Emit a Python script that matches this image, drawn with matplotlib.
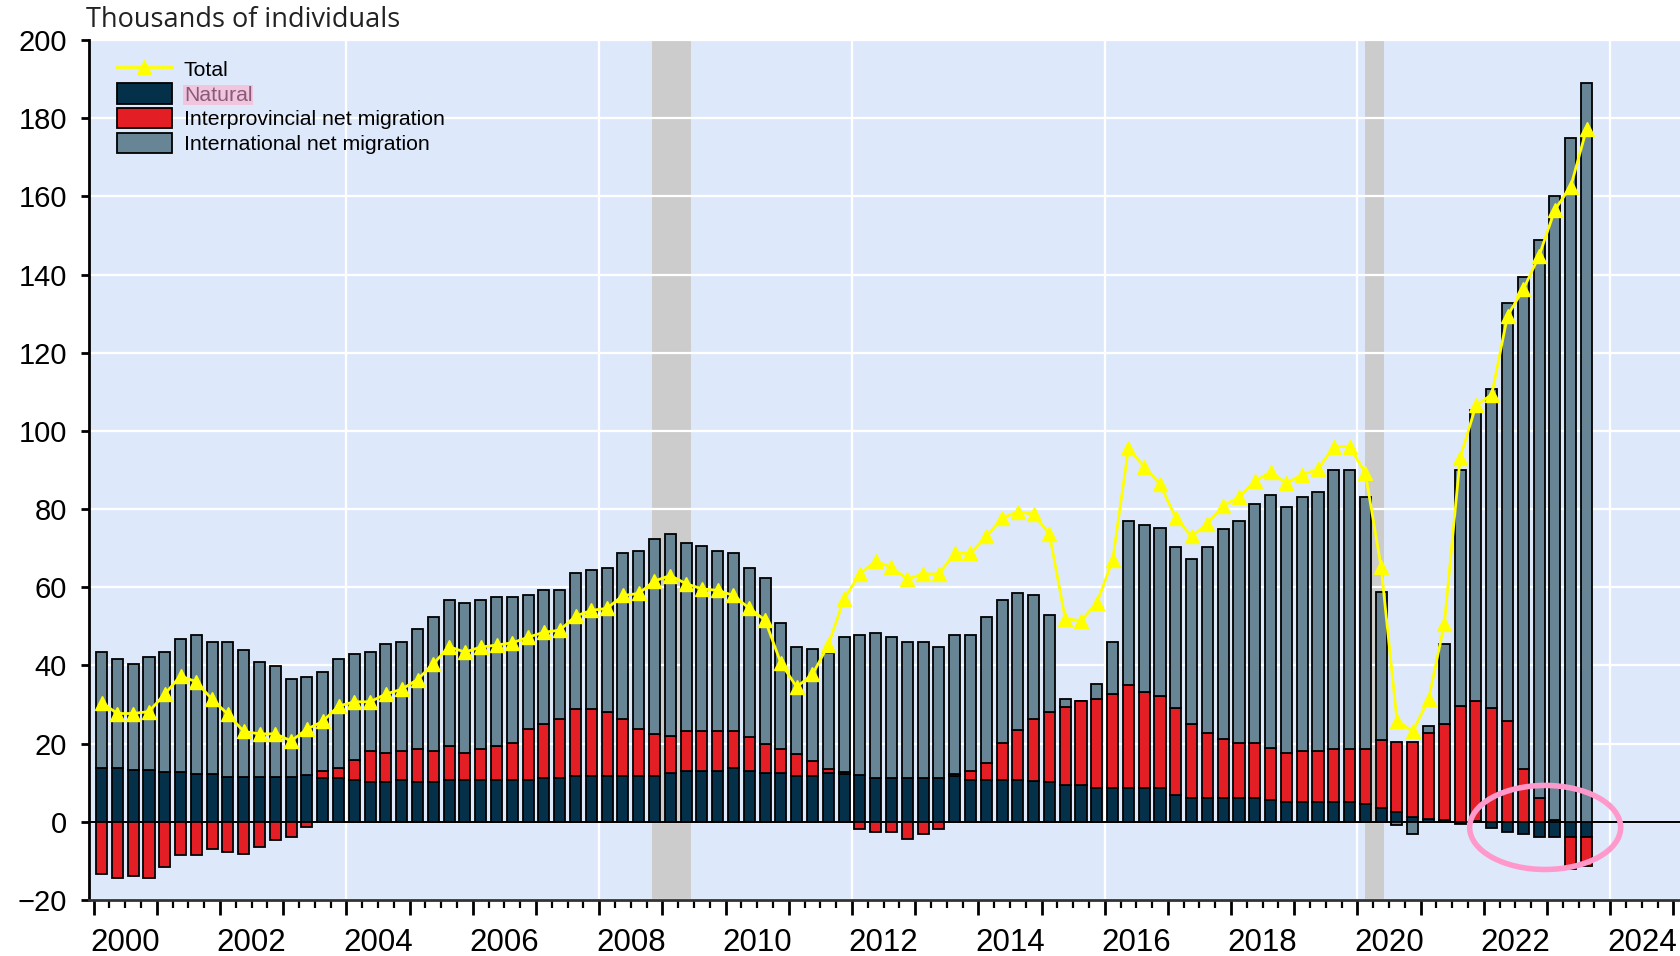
import numpy as np
import matplotlib
matplotlib.use("Agg")
import matplotlib.pyplot as plt
from matplotlib.patches import Ellipse

# quarterly data, 2000Q1 - 2023Q3 (thousands of individuals)
natural = [13.7, 13.7, 13.3, 13.3, 12.8, 12.8, 12.1, 12.1, 11.4, 11.4, 11.4, 11.4,
           11.4, 11.9, 11.1, 11.1, 10.7, 10.2, 10.2, 10.7, 10.2, 10.2, 10.7, 10.7,
           10.7, 10.7, 10.7, 10.7, 11.1, 11.1, 11.7, 11.7, 11.7, 11.7, 11.7, 11.7,
           12.4, 13.0, 13.0, 13.0, 13.7, 13.0, 12.4, 12.4, 11.7, 11.7, 12.4, 12.2,
           12.0, 11.3, 11.3, 11.3, 11.3, 11.3, 11.7, 10.7, 10.7, 10.7, 10.7, 10.4,
           10.2, 9.3, 9.3, 8.7, 8.7, 8.7, 8.7, 8.7, 6.9, 6.2, 6.2, 6.2,
           6.2, 6.2, 5.5, 5.0, 5.0, 5.0, 5.0, 5.0, 4.5, 3.6, 2.4, 1.1,
           0.7, 0.4, -0.5, 0.3, -1.7, -2.7, -3.2, -3.9, -3.9, -3.9, -3.9]
interprov = [-13.4, -14.5, -13.9, -14.5, -11.5, -8.4, -8.4, -7.0, -7.7, -8.3, -6.4, -4.6,
             -3.9, -1.4, 1.9, 2.6, 5.0, 7.9, 7.3, 7.4, 8.5, 7.9, 8.7, 7.0,
             8.0, 8.7, 9.4, 13.0, 14.0, 15.3, 17.1, 17.1, 16.4, 14.7, 12.0, 10.7,
             9.6, 10.3, 10.1, 10.1, 9.4, 8.8, 7.5, 6.2, 5.7, 3.8, 1.1, 0.6,
             -1.8, -2.5, -2.5, -4.5, -3.2, -1.8, 0.5, 2.3, 4.4, 9.4, 12.9, 15.8,
             17.9, 20.1, 21.5, 22.7, 24.0, 26.4, 24.6, 23.4, 22.3, 18.9, 16.5, 15.1,
             13.9, 13.9, 13.3, 12.7, 13.1, 13.1, 13.7, 13.7, 14.2, 17.2, 17.9, 19.2,
             21.9, 24.7, 29.6, 30.6, 29.2, 25.9, 13.4, 6.2, 0.5, -8.3, -7.5]
international = [29.7, 28.0, 27.1, 28.9, 30.6, 33.9, 35.7, 33.8, 34.5, 32.6, 29.6, 28.4,
                 25.2, 25.2, 25.4, 28.0, 27.1, 25.3, 27.9, 27.8, 30.5, 34.3, 37.3, 38.3,
                 38.0, 38.0, 37.3, 34.3, 34.2, 32.9, 34.9, 35.5, 36.8, 42.3, 45.6, 50.0,
                 51.7, 48.0, 47.5, 46.2, 45.6, 43.1, 42.4, 32.3, 27.3, 28.6, 29.8, 34.4,
                 35.8, 37.1, 35.9, 34.6, 34.6, 33.4, 35.6, 34.8, 37.3, 36.6, 34.9, 31.8,
                 24.8, 2.0, 0.2, 3.8, 13.2, 41.9, 42.5, 43.1, 41.2, 42.1, 47.7, 53.6,
                 56.8, 61.1, 64.7, 62.8, 64.9, 66.2, 71.2, 71.2, 64.3, 38.1, -0.7, -3.2,
                 2.0, 20.3, 60.3, 74.4, 81.6, 106.7, 126.0, 142.7, 159.7, 174.9, 188.9]
total = [30.5, 27.7, 27.7, 28.2, 32.7, 37.3, 35.8, 31.3, 27.5, 23.1, 22.5, 22.5,
         20.7, 23.7, 25.7, 29.6, 30.7, 30.7, 32.7, 33.9, 36.4, 40.4, 44.8, 43.4,
         44.7, 45.2, 45.8, 47.2, 48.5, 49.0, 52.6, 54.1, 54.6, 57.9, 58.4, 61.6,
         63.0, 60.9, 59.6, 59.2, 57.9, 54.6, 51.6, 40.6, 34.5, 37.7, 45.2, 57.1,
         63.4, 66.7, 65.1, 62.1, 63.4, 63.4, 68.7, 68.7, 73.0, 77.7, 79.3, 78.7,
         73.6, 52.0, 51.4, 56.0, 66.9, 95.5, 90.8, 86.4, 77.7, 73.0, 76.3, 80.9,
         83.0, 87.1, 89.5, 86.6, 88.8, 90.2, 96.0, 96.0, 89.2, 65.1, 25.9, 23.1,
         31.3, 50.7, 93.1, 106.5, 109.3, 129.5, 136.2, 144.8, 156.6, 162.5, 177.2]

recessions = [(2008.83, 2009.45), (2020.12, 2020.42)]
series_names = ["Natural", "Interprovincial net migration", "International net migration"]
colors = ["#04304a", "#e31e24", "#688596"]

x = 2000 + np.arange(len(total)) / 4 + 0.125

fig = plt.figure(figsize=(16.81, 9.56), dpi=100)
ax = fig.add_axes([0.0531, 0.0586, 0.9469, 0.8996])
ax.set_facecolor("#dde9fb")

for a, b in recessions:
    ax.axvspan(a, b, color="#cccccc", zorder=0.5, lw=0)

ax.set_xlim(1999.93, 2025.12)
ax.set_ylim(-20, 200)

for yv in range(-20, 201, 20):
    ax.axhline(yv, color="white", lw=1.6, zorder=1)
for xv in range(2004, 2025, 4):
    ax.axvline(xv, color="white", lw=1.6, zorder=1)
ax.axhline(0, color="black", lw=1.4, zorder=1.5)

pos_bottom = np.zeros(len(total))
neg_bottom = np.zeros(len(total))
handles = []
for vals, name, col in zip([natural, interprov, international], series_names, colors):
    v = np.array(vals)
    bottom = np.where(v >= 0, pos_bottom, neg_bottom)
    bars = ax.bar(x, v, width=0.175, bottom=bottom, color=col, edgecolor="black",
                  linewidth=1.3, zorder=2, label=name)
    handles.append(bars)
    pos_bottom += np.where(v >= 0, v, 0)
    neg_bottom += np.where(v < 0, v, 0)

line, = ax.plot(x, total, color="#ffff00", lw=2, marker="^", markersize=10.5,
                zorder=4, label="Total")

ell = Ellipse((2022.97, -1.45), 2.39, 21.5, fill=False, edgecolor="#ff99cc",
              lw=4, zorder=5)
ax.add_patch(ell)

# axes styling
for s in ["top", "right"]:
    ax.spines[s].set_visible(False)
ax.spines["left"].set_linewidth(2)
ax.spines["bottom"].set_linewidth(2)
ax.spines["bottom"].set_color("#333333")

ax.set_yticks(range(-20, 201, 20))
ax.tick_params(axis="y", direction="out", length=6, width=2, pad=10,
               labelsize=21, labelfontfamily="Liberation Sans")
ax.set_xticks(range(2000, 2026))
ax.set_xticks(np.arange(2000, 2025.01, 0.25), minor=True)
ax.set_xticklabels([])
ax.tick_params(axis="x", which="major", direction="out", length=11, width=2)
ax.tick_params(axis="x", which="minor", direction="out", length=6, width=1.6)
for yr in range(2000, 2025, 2):
    ax.text(yr + 0.5, -0.05, str(yr), transform=ax.get_xaxis_transform(),
            ha="center", va="center", fontsize=22.5, family="Liberation Sans")

fig.text(0.051, 0.979, "Thousands of individuals", fontsize=19.5,
         family="Open Sans", color="#222222", ha="left", va="center")

leg = ax.legend([line] + handles, ["Total"] + series_names, loc="upper left",
                bbox_to_anchor=(0.012, 0.988), frameon=False,
                prop={"family": "Liberation Sans", "size": 15.3},
                handlelength=2.6, handleheight=1.1, labelspacing=0.15,
                handletextpad=0.55, borderaxespad=0)
for t in leg.get_texts():
    if t.get_text() == "Natural":
        t.set_color("#8a5a78")
        t.set_bbox(dict(facecolor="#f0c6df", edgecolor="none", pad=0.5))

fig.savefig("out.png", dpi=100)
